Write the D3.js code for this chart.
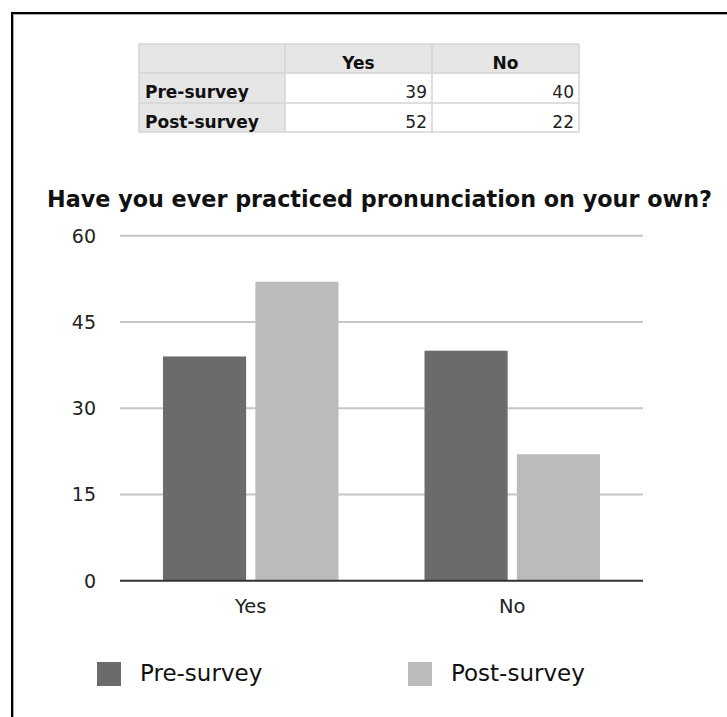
<!DOCTYPE html>
<html>
<head>
<meta charset="utf-8">
<script src="https://cdn.jsdelivr.net/npm/d3@7"></script>
<style>
  body { margin: 0; background: #fff; }
  svg { display: block; font-family: "DejaVu Sans", Verdana, sans-serif; }
</style>
</head>
<body>
<svg id="chart" width="727" height="717"></svg>
<script>
// Survey answers, before and after the course
const categories = ["Yes", "No"];
const seriesNames = ["Pre-survey", "Post-survey"];
const preSurvey = [39, 40];
const postSurvey = [52, 22];
const yTickValues = [0, 15, 30, 45, 60];
const seriesColors = ["#6b6b6b", "#bbbbbb"];
const chartTitle = "Have you ever practiced pronunciation on your own?";

const seriesValues = [preSurvey, postSurvey];
const svg = d3.select("#chart");

// page frame (top and left edges with a soft inner shadow)
svg.append("line").attr("x1", 11).attr("x2", 727).attr("y1", 13).attr("y2", 13)
  .attr("stroke", "#000").attr("stroke-width", 2);
svg.append("line").attr("x1", 13).attr("x2", 727).attr("y1", 14.5).attr("y2", 14.5)
  .attr("stroke", "#aaa").attr("stroke-width", 1);
svg.append("line").attr("x1", 12).attr("x2", 12).attr("y1", 12).attr("y2", 717)
  .attr("stroke", "#000").attr("stroke-width", 2);
svg.append("line").attr("x1", 13.5).attr("x2", 13.5).attr("y1", 14).attr("y2", 717)
  .attr("stroke", "#aaa").attr("stroke-width", 1);

// ---------- data table ----------
const table = svg.append("g");
const colX = [139, 285, 432, 579];
const rowY = [44, 73, 103, 132];
const headBg = "#e6e6e6", lineCol = "#d4d4d4";

// header row and first column are shaded
table.append("rect").attr("x", colX[0]).attr("y", rowY[0])
  .attr("width", colX[3] - colX[0]).attr("height", rowY[1] - rowY[0]).attr("fill", headBg);
table.append("rect").attr("x", colX[0]).attr("y", rowY[1])
  .attr("width", colX[1] - colX[0]).attr("height", rowY[3] - rowY[1]).attr("fill", headBg);

// grid lines
colX.forEach(x => table.append("line").attr("x1", x).attr("x2", x)
  .attr("y1", rowY[0]).attr("y2", rowY[3]).attr("stroke", lineCol).attr("stroke-width", 1.5));
rowY.forEach(y => table.append("line").attr("x1", colX[0]).attr("x2", colX[3])
  .attr("y1", y).attr("y2", y).attr("stroke", lineCol).attr("stroke-width", 1.5));

// column headers
table.selectAll("text.head").data(categories).join("text")
  .attr("class", "head")
  .attr("x", (d, i) => (colX[i + 1] + colX[i + 2]) / 2)
  .attr("y", 69)
  .attr("text-anchor", "middle")
  .attr("font-size", 17).attr("font-weight", "bold").attr("fill", "#111")
  .text(d => d);

// row labels and values
seriesNames.forEach((name, r) => {
  const baseY = rowY[r + 1] + 25;
  table.append("text").attr("x", 145).attr("y", baseY)
    .attr("font-size", 17).attr("font-weight", "bold").attr("fill", "#111")
    .text(name);
  seriesValues[r].forEach((v, c) => {
    table.append("text").attr("x", colX[c + 2] - 5).attr("y", baseY)
      .attr("text-anchor", "end").attr("font-size", 17).attr("fill", "#222")
      .text(v);
  });
});

// ---------- chart title ----------
svg.append("text").attr("x", 47).attr("y", 207)
  .attr("font-size", 22.3).attr("font-weight", "bold").attr("fill", "#111")
  .text(chartTitle);

// ---------- bar chart ----------
const plot = { left: 120, right: 643 };
const y = d3.scaleLinear().domain([0, 60]).range([580.7, 235.7]);
const x = d3.scaleBand().domain(categories).range([plot.left, plot.right]);
const xInner = d3.scaleBand().domain(seriesNames)
  .range([43, x.bandwidth() - 43]).paddingInner(0.1);

// gridlines
svg.append("g").selectAll("line").data(yTickValues.filter(v => v > 0)).join("line")
  .attr("x1", plot.left).attr("x2", plot.right)
  .attr("y1", d => y(d)).attr("y2", d => y(d))
  .attr("stroke", "#c6c6c6").attr("stroke-width", 2);

// y tick labels
svg.append("g").selectAll("text").data(yTickValues).join("text")
  .attr("x", 96).attr("y", d => y(d) + 7)
  .attr("text-anchor", "end").attr("font-size", 19).attr("fill", "#222")
  .text(d => d);

// bars
const groups = svg.append("g").selectAll("g").data(categories).join("g")
  .attr("transform", d => `translate(${x(d)},0)`);
groups.selectAll("rect")
  .data((c, ci) => seriesNames.map((s, si) => ({ s, si, v: seriesValues[si][ci] })))
  .join("rect")
  .attr("x", d => xInner(d.s))
  .attr("width", xInner.bandwidth())
  .attr("y", d => y(d.v))
  .attr("height", d => y(0) - y(d.v))
  .attr("fill", d => seriesColors[d.si]);

// baseline
svg.append("line").attr("x1", plot.left).attr("x2", plot.right)
  .attr("y1", y(0)).attr("y2", y(0)).attr("stroke", "#333").attr("stroke-width", 2);

// category labels
svg.append("g").selectAll("text").data(categories).join("text")
  .attr("x", d => x(d) + x.bandwidth() / 2).attr("y", 613)
  .attr("text-anchor", "middle").attr("font-size", 19.5).attr("fill", "#222")
  .text(d => d);

// ---------- legend ----------
const legendX = [97, 408];
const legend = svg.append("g").selectAll("g").data(seriesNames).join("g")
  .attr("transform", (d, i) => `translate(${legendX[i]},662)`);
legend.append("rect").attr("width", 24).attr("height", 24)
  .attr("fill", (d, i) => seriesColors[i]);
legend.append("text").attr("x", 43).attr("y", 19)
  .attr("font-size", 23).attr("fill", "#111")
  .text(d => d);
</script>
</body>
</html>
